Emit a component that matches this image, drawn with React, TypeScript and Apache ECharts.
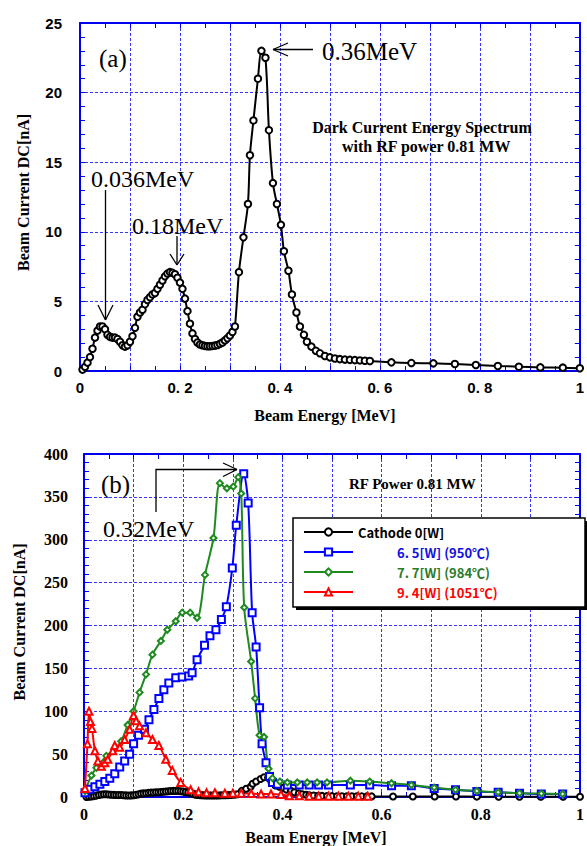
import React, { useEffect, useRef } from 'react';
import * as echarts from 'echarts';

// ---- data ----
// (a) Dark current energy spectrum, RF power 0.81 MW  [MeV, nA]
const cathodeSpectrum: [number, number][] = [
  [0.005, 0.1], [0.01, 0.3], [0.015, 0.6], [0.02, 1.0], [0.025, 1.6], [0.03, 2.4], [0.035, 2.9], [0.04, 3.2],
  [0.045, 3.2], [0.05, 3.0], [0.055, 2.6], [0.06, 2.45], [0.065, 2.4], [0.07, 2.4], [0.075, 2.3], [0.08, 2.1],
  [0.085, 1.85], [0.09, 1.75], [0.095, 1.85], [0.1, 2.1], [0.105, 2.5], [0.11, 3.1], [0.115, 3.9], [0.12, 4.2],
  [0.125, 4.4], [0.13, 4.8], [0.135, 5.1], [0.14, 5.3], [0.145, 5.5], [0.15, 5.6], [0.155, 5.9], [0.16, 6.2],
  [0.165, 6.5], [0.17, 6.8], [0.175, 7.0], [0.18, 7.1], [0.185, 7.05], [0.19, 6.95], [0.195, 6.7], [0.2, 6.35],
  [0.205, 5.9], [0.21, 5.2], [0.215, 4.3], [0.22, 3.4], [0.225, 2.7], [0.23, 2.3], [0.235, 2.05], [0.24, 1.9],
  [0.245, 1.85], [0.25, 1.8], [0.255, 1.78], [0.26, 1.78], [0.265, 1.8], [0.27, 1.82], [0.275, 1.87], [0.28, 1.95],
  [0.285, 2.05], [0.29, 2.2], [0.295, 2.35], [0.3, 2.55], [0.305, 2.8], [0.31, 3.2], [0.318, 7.1], [0.327, 9.6],
  [0.336, 12.0], [0.34, 15.5], [0.347, 18.0], [0.356, 21.0], [0.363, 23.0], [0.371, 22.5], [0.378, 17.3],
  [0.386, 13.5], [0.394, 12.0], [0.402, 10.5], [0.408, 8.6], [0.417, 7.2], [0.424, 5.5], [0.433, 4.2], [0.44, 3.2],
  [0.448, 2.6], [0.454, 2.1], [0.463, 1.75], [0.472, 1.45], [0.48, 1.27], [0.49, 1.08], [0.5, 0.98], [0.51, 0.9],
  [0.52, 0.85], [0.53, 0.82], [0.54, 0.8], [0.55, 0.78], [0.56, 0.76], [0.57, 0.74], [0.58, 0.72], [0.623, 0.62],
  [0.663, 0.57], [0.707, 0.55], [0.75, 0.5], [0.792, 0.43], [0.836, 0.36], [0.878, 0.31], [0.921, 0.26],
  [0.966, 0.24], [1.0, 0.2],
];

// (b) heater power 6.5 W (950 C)
const power65W: [number, number][] = [
  [0.002, 5], [0.012, 9], [0.022, 12], [0.032, 15], [0.042, 18], [0.052, 22], [0.062, 27], [0.072, 35],
  [0.082, 42], [0.092, 50], [0.1, 62], [0.11, 72], [0.122, 79], [0.131, 90], [0.141, 102], [0.151, 115],
  [0.161, 125], [0.171, 133], [0.185, 139], [0.198, 140], [0.211, 141], [0.218, 145], [0.228, 160], [0.243, 177],
  [0.254, 188], [0.266, 195], [0.277, 207], [0.287, 222], [0.299, 267], [0.307, 317], [0.322, 377], [0.331, 343],
  [0.339, 215], [0.347, 175], [0.354, 104], [0.359, 62], [0.367, 40], [0.374, 24], [0.38, 17], [0.39, 15],
  [0.41, 14], [0.434, 14], [0.454, 14], [0.473, 14], [0.493, 14], [0.537, 14], [0.576, 14], [0.62, 13],
  [0.66, 13], [0.706, 10], [0.749, 8.5], [0.792, 6.5], [0.835, 5.5], [0.878, 4.5], [0.922, 3.5], [0.965, 3.5],
];

// (b) heater power 7.7 W (984 C)
const power77W: [number, number][] = [
  [0.002, 7], [0.015, 25], [0.025, 34], [0.045, 48], [0.062, 56], [0.075, 65], [0.088, 84], [0.1, 100],
  [0.112, 122], [0.125, 143], [0.138, 166], [0.155, 182], [0.168, 195], [0.185, 205], [0.198, 215], [0.214, 215],
  [0.228, 209], [0.244, 259], [0.261, 302], [0.274, 366], [0.288, 360], [0.301, 362], [0.311, 373], [0.317, 354],
  [0.323, 221], [0.337, 158], [0.345, 115], [0.354, 72], [0.363, 70], [0.372, 33], [0.38, 22], [0.395, 18],
  [0.41, 17], [0.43, 17], [0.45, 17], [0.47, 17], [0.49, 17], [0.537, 19], [0.576, 18], [0.62, 16], [0.66, 14],
  [0.706, 11], [0.749, 8.5], [0.792, 7], [0.835, 5.5], [0.878, 4.5], [0.922, 4], [0.965, 3.5],
];

// (b) heater power 9.4 W (1051 C)
const power94W: [number, number][] = [
  [0.002, 10], [0.007, 62], [0.01, 100], [0.013, 88], [0.016, 80], [0.022, 54], [0.028, 42], [0.035, 36],
  [0.042, 40], [0.048, 44], [0.058, 54], [0.062, 60], [0.072, 58], [0.082, 67], [0.092, 79], [0.1, 95],
  [0.105, 89], [0.112, 83], [0.125, 75], [0.138, 67], [0.151, 60], [0.165, 44], [0.178, 31], [0.195, 17],
  [0.215, 8.5], [0.231, 6], [0.247, 5], [0.264, 5], [0.284, 4.5], [0.3, 4.5], [0.317, 4.5], [0.337, 4],
  [0.357, 3.5], [0.377, 3.5], [0.397, 3], [0.414, 1.5], [0.434, 1.5], [0.454, 1], [0.473, 1], [0.493, 1],
  [0.513, 1], [0.533, 1], [0.553, 1], [0.572, 1],
];

const seriesNames = ['Cathode 0[W]', '6. 5[W] (950℃)', '7. 7[W] (984℃)', '9. 4[W] (1051℃)'];
const topXTickLabels = ['0', '0. 2', '0. 4', '0. 6', '0. 8', '1'];
const bottomXTickLabels = ['0', '0.2', '0.4', '0.6', '0.8', '1'];
const xAxisTitle = 'Beam Energy [MeV]';
const yAxisTitle = 'Beam Current DC[nA]';

// ---- styles ----
const AXIS_BLUE = '#0000ee';
const GRID_BLUE = '#3535ff';
const SERIF = '"Liberation Serif", "Times New Roman", serif';
const SANS = '"Liberation Sans", Arial, sans-serif';
const GOTHIC = '"Noto Sans CJK JP", "Noto Sans", sans-serif';
const COLORS = ['#000000', '#0000ff', '#1f8a1f', '#ff0000'];
const TEXT_COLORS = ['#000000', '#1010e0', '#2a7a2a', '#ff0000'];

function xAxesFor(grid: number, labels: string[], font: any, nameGap: number, namePad: number[]) {
  const base = {
    type: 'value' as const,
    gridIndex: grid,
    min: 0,
    max: 1,
    interval: 0.1,
    axisLine: { show: true, onZero: false, lineStyle: { color: AXIS_BLUE, width: 2 } },
    axisTick: { show: true, inside: true, length: 5, lineStyle: { color: AXIS_BLUE, width: 1 } },
    minorTick: { show: true, splitNumber: 2, length: 5, lineStyle: { color: AXIS_BLUE, width: 1 } },
  };
  return [
    {
      ...base,
      position: 'bottom',
      splitLine: { show: true, lineStyle: { color: GRID_BLUE, width: 1, type: [3, 2] } },
      axisLabel: {
        interval: 0,
        margin: 9,
        showMinLabel: true,
        showMaxLabel: true,
        color: '#000',
        ...font,
        formatter: (v: number) => {
          const k = Math.round(v * 10);
          return k % 2 ? '' : labels[k / 2];
        },
      },
      name: xAxisTitle,
      nameLocation: 'middle',
      nameGap,
      nameTextStyle: { fontFamily: SERIF, fontWeight: 'bold', fontSize: 16, color: '#000', padding: namePad },
    },
    {
      ...base,
      position: 'top',
      splitLine: { show: false },
      axisLabel: { show: false },
    },
  ];
}

function yAxesFor(grid: number, max: number, interval: number, font: any, margin: number, nameGap: number, namePad: number[]) {
  const base = {
    type: 'value' as const,
    gridIndex: grid,
    min: 0,
    max,
    interval,
    axisLine: { show: true, onZero: false, lineStyle: { color: AXIS_BLUE, width: 2 } },
    axisTick: { show: true, inside: true, length: 5, lineStyle: { color: AXIS_BLUE, width: 1 } },
    minorTick: { show: true, splitNumber: 5, length: 5, lineStyle: { color: AXIS_BLUE, width: 1 } },
  };
  return [
    {
      ...base,
      position: 'left',
      splitLine: { show: true, lineStyle: { color: GRID_BLUE, width: 1, type: [3, 2] } },
      axisLabel: { margin, color: '#000', ...font },
      name: yAxisTitle,
      nameLocation: 'middle',
      nameGap,
      nameTextStyle: { fontFamily: SERIF, fontWeight: 'bold', fontSize: 16, color: '#000', padding: namePad },
    },
    {
      ...base,
      position: 'right',
      splitLine: { show: false },
      axisLabel: { show: false },
    },
  ];
}

function lineSeries(name: string, data: [number, number][], axis: number, color: string, symbol: string, size: number) {
  return {
    type: 'line',
    name,
    xAxisIndex: axis,
    yAxisIndex: axis,
    data,
    smooth: 0.3,
    showAllSymbol: true,
    symbol,
    symbolSize: size,
    lineStyle: { color, width: 2 },
    itemStyle: { color, borderWidth: 1 },
    emphasis: { disabled: true },
    z: 2,
  };
}

function txt(text: string, x: number, y: number, font: string, align = 'left') {
  return {
    type: 'text',
    x,
    y,
    z: 6,
    style: { text, font, fill: '#000', textAlign: align, textVerticalAlign: 'middle' },
  };
}

function seg(x1: number, y1: number, x2: number, y2: number) {
  return { type: 'line', z: 6, shape: { x1, y1, x2, y2 }, style: { stroke: '#000', lineWidth: 1.3 } };
}

export default function App() {
  const ref = useRef<HTMLDivElement>(null);

  useEffect(() => {
    document.body.style.margin = '0';
    if (!ref.current) return;
    const chart = echarts.init(ref.current, undefined, { renderer: 'svg' });

    const topLabelFont = { fontFamily: SANS, fontWeight: 'bold', fontSize: 15 };
    const bottomLabelFont = { fontFamily: SERIF, fontWeight: 'bold', fontSize: 16 };
    const big = `24px ${SERIF}`;
    const note = `bold 16px ${SERIF}`;

    const rich: any = {};
    TEXT_COLORS.forEach((c, i) => {
      rich['c' + i] = {
        fontFamily: GOTHIC,
        fontWeight: 'bold',
        fontSize: 13,
        lineHeight: 14,
        color: c,
        padding: i === 0 ? [0, 0, 0, 0] : [0, 0, 0, 39],
      };
    });

    const option: any = {
      animation: false,
      backgroundColor: '#fff',
      grid: [
        { left: 80, top: 23, width: 506, height: 348, containLabel: false },
        { left: 84, top: 454, width: 501, height: 344, containLabel: false },
      ],
      xAxis: [
        ...xAxesFor(0, topXTickLabels, topLabelFont, 36, [0, 10, 0, 0]),
        ...xAxesFor(1, bottomXTickLabels, bottomLabelFont, 32, [0, 32, 0, 0]),
      ],
      yAxis: [
        ...yAxesFor(0, 25, 5, topLabelFont, 18, 49, [0, 0, 0, 9]),
        ...yAxesFor(1, 400, 50, bottomLabelFont, 16, 57, [0, 0, 0, 7]),
      ],
      legend: {
        data: seriesNames,
        orient: 'vertical',
        left: 303,
        top: 525,
        itemWidth: 49,
        itemHeight: 9,
        itemGap: 6,
        padding: 0,
        z: 8,
        selectedMode: false,
        textStyle: { fontFamily: GOTHIC, fontWeight: 'bold', fontSize: 13, lineHeight: 14, color: '#000', rich },
        formatter: (name: string) => {
          const i = Math.max(0, seriesNames.indexOf(name));
          return `{c${i}|${name}}`;
        },
      },
      series: [
        lineSeries('Dark Current Energy Spectrum', cathodeSpectrum, 0, COLORS[0], 'emptyCircle', 6.5),
        lineSeries(seriesNames[0], cathodeSpectrum, 2, COLORS[0], 'emptyCircle', 6),
        lineSeries(seriesNames[1], power65W, 2, COLORS[1], 'emptyRect', 7),
        lineSeries(seriesNames[2], power77W, 2, COLORS[2], 'emptyDiamond', 6),
        lineSeries(seriesNames[3], power94W, 2, COLORS[3], 'emptyTriangle', 7),
      ],
      graphic: [
        // legend frame with hard shadow
        { type: 'rect', z: 4, shape: { x: 296, y: 521, width: 292, height: 89 }, style: { fill: '#000' } },
        { type: 'rect', z: 5, shape: { x: 293, y: 518, width: 292, height: 89 }, style: { fill: '#fff', stroke: '#000', lineWidth: 1.5 } },
        // (a)
        txt('(a)', 99, 58, `25px ${SERIF}`),
        txt('0.36MeV', 322, 51, `25px ${SERIF}`),
        seg(313, 49.5, 273, 49.5),
        seg(273, 49.5, 288, 43),
        seg(273, 49.5, 288, 56),
        txt('Dark Current Energy Spectrum', 422, 127, note, 'center'),
        txt('with RF power 0.81 MW', 342, 146, note),
        txt('0.036MeV', 91, 179, big),
        seg(105.5, 190, 105.5, 320),
        seg(98, 305, 105.5, 320),
        seg(113, 305, 105.5, 320),
        txt('0.18MeV', 132, 226, big),
        seg(177, 236, 177, 265),
        seg(170, 254, 177, 265),
        seg(184, 254, 177, 265),
        // (b)
        txt('(b)', 101, 484, `25px ${SERIF}`),
        txt('0.32MeV', 103, 529, big),
        { type: 'polyline', z: 6, shape: { points: [[156, 512], [156, 469.5], [237, 469.5]] }, style: { stroke: '#000', lineWidth: 1.3, fill: null } },
        seg(237, 469.5, 223, 463),
        seg(237, 469.5, 223, 476.5),
        txt('RF Power 0.81 MW', 349, 484, `bold 15px ${SERIF}`),
      ],
    };

    chart.setOption(option);
    return () => chart.dispose();
  }, []);

  return <div ref={ref} style={{ width: 587, height: 846 }} />;
}
